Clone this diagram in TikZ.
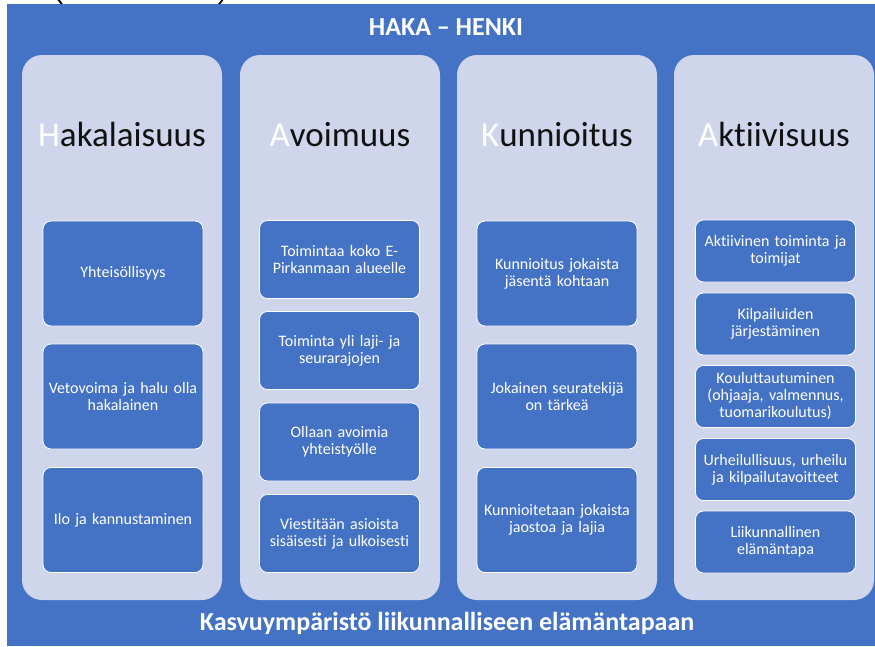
\documentclass[tikz,border=0pt]{standalone}
\usepackage{fontspec}
\setmainfont{Carlito}[Ligatures={NoCommon,NoContextual}]
\definecolor{hakablue}{HTML}{4472C4}
\definecolor{hakalight}{HTML}{CFD5EA}
\definecolor{hakatext}{HTML}{111111}
\begin{document}
\begin{tikzpicture}[x=1pt,y=-1pt,
  column/.style={draw=none,fill=hakalight,rounded corners=20pt,minimum width=200pt,minimum height=545pt,inner sep=0pt},
  head/.style={anchor=base,text=hakatext,font=\fontsize{35}{40}\selectfont,inner sep=0pt},
  item/.style={draw=white,line width=0.8pt,fill=hakablue,rounded corners=8pt,minimum width=160pt,text width=154pt,align=center,text=white,font=\fontsize{16}{17}\selectfont,inner sep=0pt},
  itemA/.style={item,minimum height=105pt},
  itemB/.style={item,minimum height=78pt},
  itemC/.style={item,minimum height=62pt},
  banner/.style={anchor=base,text=white,font=\bfseries\fontsize{26}{30}\selectfont,inner sep=0pt},
  paren/.style={line width=1.8pt,line cap=round}]
\useasboundingbox (0,0) rectangle (875,646);
\fill[white] (0,0) rectangle (875,646);
% cropped parentheses at the top edge
\draw[paren] (58,-1) .. controls (60,2) .. (62.5,5);
\draw[paren] (223,-1) .. controls (221,2) .. (218.5,5);
% background
\fill[hakablue] (7,4) rectangle (875,646);
\node[banner] (title) at (446,35) {HAKA – HENKI};
\node[banner] (foot) at (447,630) {Kasvuympäristö liikunnalliseen elämäntapaan};
% columns
\node[column] (c1) at (122,327.5) {};
\node[column] (c2) at (340,327.5) {};
\node[column] (c3) at (557,327.5) {};
\node[column] (c4) at (774,327.5) {};
\node[head] (h1) at (122,146) {\textcolor{white}{H}akalaisuus};
\node[head] (h2) at (340,146) {\textcolor{white}{A}voimuus};
\node[head] (h3) at (557,146) {\textcolor{white}{K}unnioitus};
\node[head] (h4) at (774,146) {\textcolor{white}{A}ktiivisuus};
% column 1
\node[itemA] (a1) at (123,273.5) {Yhteisöllisyys};
\node[itemA] (a2) at (123,396.5) {Vetovoima ja halu olla\\hakalainen};
\node[itemA] (a3) at (123,520) {Ilo ja kannustaminen};
% column 2
\node[itemB] (b1) at (339.5,259.5) {Toimintaa koko E-\\Pirkanmaan alueelle};
\node[itemB] (b2) at (339.5,350.5) {Toiminta yli laji- ja\\seurarajojen};
\node[itemB] (b3) at (339.5,442) {Ollaan avoimia\\yhteistyölle};
\node[itemB] (b4) at (339.5,533.5) {Viestitään asioista\\sisäisesti ja ulkoisesti};
% column 3
\node[itemA] (k1) at (557,273.5) {Kunnioitus jokaista\\jäsentä kohtaan};
\node[itemA] (k2) at (557,396.5) {Jokainen seuratekijä\\on tärkeä};
\node[itemA] (k3) at (557,520) {Kunnioitetaan jokaista\\jaostoa ja lajia};
% column 4
\node[itemC] (d1) at (775.5,251) {Aktiivinen toiminta ja\\toimijat};
\node[itemC] (d2) at (775.5,324) {Kilpailuiden\\järjestäminen};
\node[itemC] (d3) at (775.5,396.5) {Kouluttautuminen\\(ohjaaja, valmennus,\\tuomarikoulutus)};
\node[itemC] (d4) at (775.5,469.5) {Urheilullisuus, urheilu\\ja kilpailutavoitteet};
\node[itemC] (d5) at (775.5,542) {Liikunnallinen\\elämäntapa};
\end{tikzpicture}
\end{document}
